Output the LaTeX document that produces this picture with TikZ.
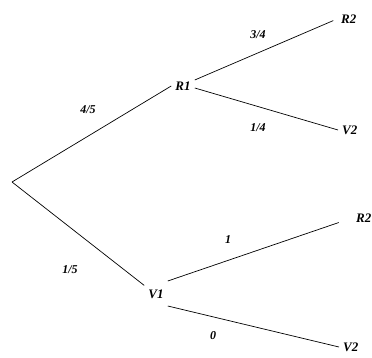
\documentclass[tikz,border=0pt]{standalone}
\usepackage{fontspec}
\setmainfont{Liberation Serif}
\usetikzlibrary{positioning}

\begin{document}
\begin{tikzpicture}[x=1pt, y=-1pt,
    etat/.style={font=\fontsize{13}{15}\selectfont\bfseries\itshape, inner sep=4pt},
    proba/.style={font=\fontsize{12}{14}\selectfont\bfseries\itshape, inner sep=1pt},
    branche/.style={line width=0.7pt}]
    \useasboundingbox (0,0) rectangle (372,358);
    % racine
    \coordinate (O) at (12,182);
    % premier niveau
    \node[etat] (R1) at (183,86) {R1};
    \node[etat] (V1) at (156,294) {V1};
    % second niveau
    \node[etat, anchor=west] (R2a) at (337,19) {R2};
    \node[etat, anchor=west] (V2a) at (338,130) {V2};
    \node[etat, anchor=west] (R2b) at (352,218) {R2};
    \node[etat, anchor=west] (V2b) at (339,347) {V2};

    \draw[branche] (O) -- (R1.west);
    \draw[branche] (O) -- (V1.north west);
    \draw[branche, shorten >=4pt] (R1.east) ++(0,-6) -- (R2a.west);
    \draw[branche] (R1.east) ++(0,2) -- (V2a.west);
    \draw[branche, shorten >=14pt] (V1.east) ++(0,-13) -- (R2b.west);
    \draw[branche] (V1.east) ++(0,12) -- (V2b.west);

    % probabilites
    \node[proba] (p45) at (88,110) {4/5};
    \node[proba] (p15) at (70,270) {1/5};
    \node[proba] (p34) at (258,35) {3/4};
    \node[proba] (p14) at (258,128) {1/4};
    \node[proba] (p1) at (228,240) {1};
    \node[proba] (p0) at (213,336) {0};
\end{tikzpicture}
\end{document}
